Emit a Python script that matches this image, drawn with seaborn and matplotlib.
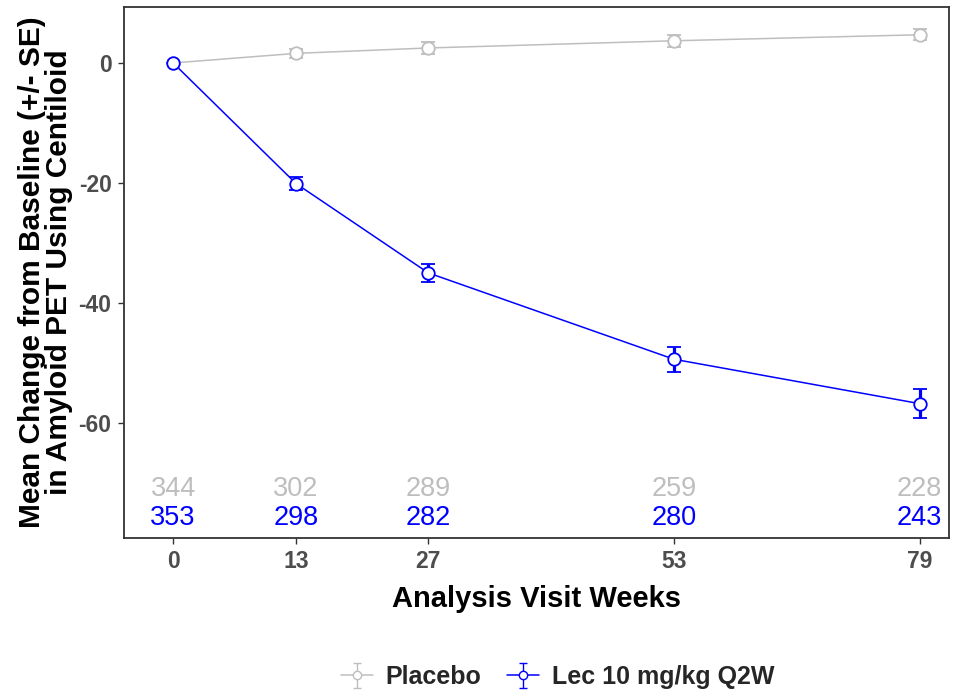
import matplotlib
matplotlib.use("Agg")
import matplotlib.pyplot as plt
import seaborn as sns
import pandas as pd
import numpy as np

weeks = [0, 13, 27, 53, 79]
groups = ["Placebo", "Lec 10 mg/kg Q2W"]
placebo_mean = [0.0, 1.6, 2.5, 3.7, 4.7]
placebo_se = [0.0, 0.8, 1.0, 1.0, 0.9]
lec_mean = [0.0, -20.1, -35.0, -49.4, -56.8]
lec_se = [0.0, 1.1, 1.5, 2.1, 2.4]
placebo_n = [344, 302, 289, 259, 228]
lec_n = [353, 298, 282, 280, 243]
colors = ["#BEBEBE", "#0000FF"]

sns.set_theme(style="white")
plt.rcParams["font.family"] = ["Liberation Sans", "DejaVu Sans"]
plt.rcParams["axes.unicode_minus"] = False

df = pd.DataFrame({
    "week": weeks * 2,
    "mean": placebo_mean + lec_mean,
    "se": placebo_se + lec_se,
    "group": [groups[0]] * 5 + [groups[1]] * 5,
})

fig = plt.figure(figsize=(9.56, 6.96), dpi=100)
ax = fig.add_axes([124 / 956, 1 - 538 / 696, (949 - 124) / 956, (538 - 7) / 696])

sns.lineplot(data=df, x="week", y="mean", hue="group", palette=colors,
             ax=ax, legend=False, linewidth=1.1, zorder=2)

for g, c in zip(groups, colors):
    d = df[df.group == g]
    ax.errorbar(d["week"], d["mean"], yerr=d["se"], fmt="o", color=c,
                ecolor=c, elinewidth=2.3, capsize=5, capthick=2.6,
                markersize=9, markerfacecolor="white", markeredgecolor=c,
                markeredgewidth=1.3, zorder=3, linestyle="none")

handles = []
for c in colors:
    h = ax.errorbar([np.nan], [np.nan], yerr=[np.nan], color=c, ecolor=c,
                    marker="o", markersize=6, markerfacecolor="white",
                    markeredgecolor=c, elinewidth=1, capsize=3, capthick=1,
                    linewidth=1.1, linestyle="-")
    handles.append(h)

for x, n in zip(weeks, placebo_n):
    ax.text(x, -71, str(n), color=colors[0], ha="center", va="center", fontsize=19.5)
for x, n in zip(weeks, lec_n):
    ax.text(x, -75.8, str(n), color=colors[1], ha="center", va="center", fontsize=19.5)

ax.set_xlim(-5.2, 82.1)
ax.set_ylim(-79.2, 9.33)
ax.set_xticks(weeks)
ax.set_yticks([0, -20, -40, -60])
ax.tick_params(axis="both", which="both", length=4, width=1, color="#333333",
               labelsize=16.5, labelcolor="#4D4D4D", bottom=True, left=True, pad=5)
for lab in ax.get_xticklabels() + ax.get_yticklabels():
    lab.set_fontweight("bold")
for s in ax.spines.values():
    s.set_color("#333333")
    s.set_linewidth(1.3)

ax.set_xlabel("Analysis Visit Weeks", fontsize=21, fontweight="bold", color="black", labelpad=8)
ax.set_ylabel("Mean Change from Baseline (+/- SE)\nin Amyloid PET Using Centiloid",
              fontsize=21.5, fontweight="bold", color="black", linespacing=0.95, labelpad=4)

fig.legend(handles, groups, loc="center", bbox_to_anchor=(0.583, 1 - 677 / 696),
           ncol=2, frameon=False, prop={"weight": "bold", "size": 18},
           handlelength=1.3, columnspacing=1.0, handletextpad=0.5)

fig.savefig("out.png", dpi=100)
